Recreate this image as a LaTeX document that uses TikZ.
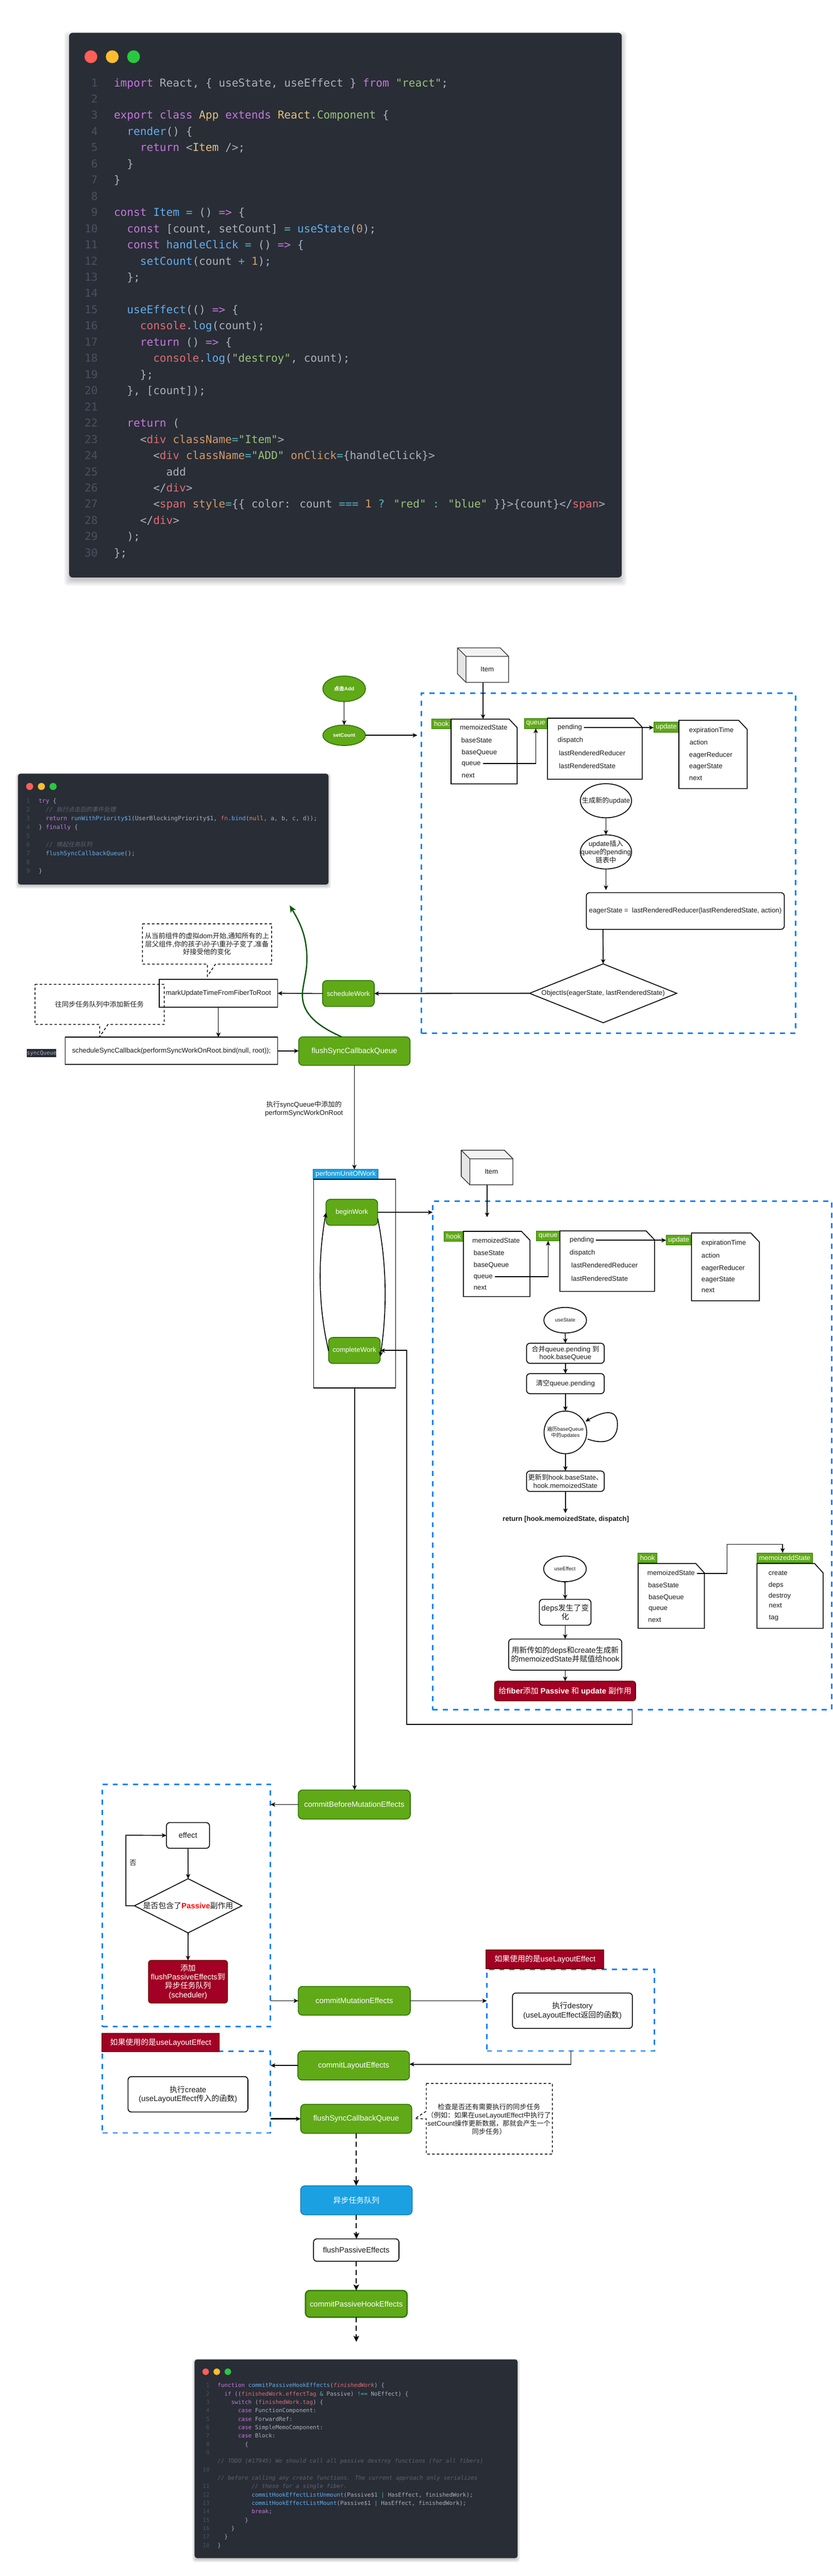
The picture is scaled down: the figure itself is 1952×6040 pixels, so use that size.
\documentclass[tikz,border=0pt]{standalone}
\usepackage{fontspec}
\setmainfont{Liberation Sans}
\newfontfamily\zhfont{Noto Sans CJK SC}
\newfontfamily\zhit[FakeSlant=0.2]{Noto Sans CJK SC}
\newfontfamily\monofam{DejaVu Sans Mono}
\usetikzlibrary{arrows.meta,shapes.geometric}
\definecolor{codebg}{HTML}{292D36}
\definecolor{codefg}{HTML}{ABB2BF}
\definecolor{cK}{HTML}{C678DD}
\definecolor{cB}{HTML}{61AFEF}
\definecolor{cS}{HTML}{98C379}
\definecolor{cN}{HTML}{D19A66}
\definecolor{cY}{HTML}{E5C07B}
\definecolor{cR}{HTML}{E06C75}
\definecolor{cC}{HTML}{56B6C2}
\definecolor{cG}{HTML}{5C6370}
\definecolor{cL}{HTML}{495162}
\definecolor{dotR}{HTML}{FF5F56}
\definecolor{dotY}{HTML}{FFBD2E}
\definecolor{dotG}{HTML}{27C93F}
\definecolor{gfill}{HTML}{60A917}
\definecolor{gline}{HTML}{2D7600}
\definecolor{rfill}{HTML}{A20025}
\definecolor{rline}{HTML}{6F0000}
\definecolor{bfill}{HTML}{1BA1E2}
\definecolor{bline}{HTML}{006EAF}
\definecolor{dashblue}{HTML}{007FFF}
\definecolor{curvegreen}{HTML}{005700}
\definecolor{ink}{HTML}{1C1C1C}
\newcommand\zh[1]{{\zhfont\mdseries #1}}
\newcommand\zhb[1]{{\zhfont\bfseries #1}}
\newcommand\hlK[1]{\textcolor{cK}{#1}}
\newcommand\hlB[1]{\textcolor{cB}{#1}}
\newcommand\hlS[1]{\textcolor{cS}{#1}}
\newcommand\hlN[1]{\textcolor{cN}{#1}}
\newcommand\hlY[1]{\textcolor{cY}{#1}}
\newcommand\hlR[1]{\textcolor{cR}{#1}}
\newcommand\hlC[1]{\textcolor{cC}{#1}}
\newcommand\hlG[1]{{\color{cG}\itshape #1}}
\newcommand\hlI[1]{{\color{cR}\itshape #1}}
\tikzset{
  every node/.style={inner sep=0pt,outer sep=0pt},
  f12/.style={font=\fontsize{6}{7}\selectfont},
  f16/.style={font=\fontsize{8}{9.5}\selectfont},
  f18/.style={font=\fontsize{9}{10.5}\selectfont},
  inkbox/.style={draw=black,line width=1pt,text=ink,align=center},
  plainbox/.style={inkbox,f16},
  rbox/.style={inkbox,rounded corners=4pt,f16},
  rboxl/.style={inkbox,rounded corners=4pt,f18},
  ellbox/.style={ellipse,draw=black,line width=1pt},
  ellgreen/.style={ellipse,draw=gline,fill=gfill,line width=1pt},
  greenbox/.style={draw=gline,fill=gfill,line width=1pt,rounded corners=5pt,text=white,align=center,f18},
  greenboxs/.style={greenbox,f16},
  redbox/.style={draw=rline,fill=rfill,line width=1pt,rounded corners=3pt,text=white,align=center,f18},
  bluebox/.style={draw=bline,fill=bfill,line width=.75pt,rounded corners=5pt,text=white,align=center,f18},
  greenlbl/.style={draw=gline,fill=gfill,line width=.5pt,text=white,f16},
  bluelbl/.style={draw=bline,fill=bfill,line width=.5pt,text=white,f16},
  redlbl/.style={draw=rline,fill=rfill,line width=1pt,text=white,f18},
  invis/.style={},
  doctxt/.style={anchor=west,text=ink,f16,text height=5.8pt,text depth=1.7pt},
  freetxt/.style={text=ink,align=center,f16},
  docline/.style={draw=black,line width=1pt},
  bluedash/.style={draw=dashblue,line width=1.75pt,dash pattern=on 6pt off 6pt},
  calldash/.style={draw=black,line width=.9pt,dash pattern=on 3pt off 2.5pt},
  conn/.style={draw=black,line width=1pt,-{Stealth[length=5.5pt,width=5pt,inset=1.5pt]}},
  connthick/.style={conn,line width=1.5pt},
  conndash/.style={draw=black,line width=1.25pt,dash pattern=on 6pt off 4pt,-{Stealth[length=7pt,width=6.5pt,inset=1.5pt]}},
  connline/.style={draw=black,line width=1pt},
  codetxt/.style={text=codefg,font=\pfont},
}
\newcommand\bx[7][]{%
  \pgfmathsetmacro\bxcx{(#3+#5)/2}\pgfmathsetmacro\bxcy{(#4+#6)/2}%
  \pgfmathsetmacro\bxw{(#5-#3)*0.5}\pgfmathsetmacro\bxh{(#6-#4)*0.5}%
  \node[#1,minimum width=\bxw pt,minimum height=\bxh pt] (#2) at (\bxcx,\bxcy) {#7};}
\newcommand\docbox[7]{%
  \bx[invis]{#1}{#2}{#3}{#4}{#5}{}%
  \draw[docline] (#2,#3) -- (#4-#6,#3) -- (#4,#3+#7) -- (#4,#5) -- (#2,#5) -- cycle;}
\newcommand\dt[4]{\node[doctxt] (#1) at (#2,#3) {#4};}
\newcommand\cube[7]{%
  \bx[invis]{#1}{#2}{#3}{#4}{#5}{}%
  \fill[fill=black!5] (#2,#3) -- (#4-#6,#3) -- (#4,#3+#6) -- (#2+#6,#3+#6) -- cycle;
  \fill[fill=black!10] (#2,#3) -- (#2+#6,#3+#6) -- (#2+#6,#5) -- (#2,#5-#6) -- cycle;
  \draw[docline,line width=.8pt,draw=black!85] (#2,#3) -- (#4-#6,#3) -- (#4,#3+#6) -- (#4,#5) -- (#2+#6,#5) -- (#2,#5-#6) -- cycle;
  \draw[docline,line width=.8pt,draw=black!85] (#2,#3) -- (#2+#6,#3+#6) -- (#4,#3+#6) (#2+#6,#3+#6) -- (#2+#6,#5);
  \node[freetxt] (#1t) at ({(#2+#6+#4)/2},{(#3+#6+#5)/2}) {#7};}
\newcommand\panel[6]{%
  \foreach \shi in {1,...,8}{%
    \pgfmathsetmacro\shE{#6*(9-\shi)/8-#6*0.25}%
    \fill[black,opacity=0.028,rounded corners=#5 pt] (#1-\shE,#2-\shE+#6*0.5) rectangle (#3+\shE,#4+\shE+#6*0.5);
  }%
  \fill[codebg,rounded corners=#5 pt] (#1,#2) rectangle (#3,#4);}
\newcommand\pnum[2]{%
  \pgfmathsetmacro\py{\pyz+(#1-1)*\ppitch+\pbase}%
  \node[codetxt,text=cL,anchor=base east] (\pname n#1) at (\pnx,\py) {#2};}
\newcommand\ptxt[3]{%
  \pgfmathsetmacro\py{\pyz+(#1-1)*\ppitch+\pbase}%
  \pgfmathsetmacro\px{\pxz+#2*\pcw}%
  \node[codetxt,anchor=base west] (\pname t#1) at (\px,\py) {#3};}
\begin{document}
\begin{tikzpicture}[x=0.5pt,y=-0.5pt]
\useasboundingbox (0,0) rectangle (1952,6040);
\fill[white] (0,0) rectangle (1952,6040);

%% ---------- code panel 1
\panel{162}{77}{1457}{1354}{4}{16}
\fill[dotR] (213,133) circle (15);
\fill[dotY] (263,133) circle (15);
\fill[dotG] (313,133) circle (15);
\def\pname{a}\def\pyz{195}\def\ppitch{38}\def\pbase{8}\def\pnx{229}\def\pxz{267}\def\pcw{15.35}
\def\pfont{\monofam\fontsize{12.75}{15}\selectfont}
\pnum{1}{1}\pnum{2}{2}\pnum{3}{3}\pnum{4}{4}\pnum{5}{5}\pnum{6}{6}\pnum{7}{7}\pnum{8}{8}\pnum{9}{9}\pnum{10}{10}
\pnum{11}{11}\pnum{12}{12}\pnum{13}{13}\pnum{14}{14}\pnum{15}{15}\pnum{16}{16}\pnum{17}{17}\pnum{18}{18}\pnum{19}{19}\pnum{20}{20}
\pnum{21}{21}\pnum{22}{22}\pnum{23}{23}\pnum{24}{24}\pnum{25}{25}\pnum{26}{26}\pnum{27}{27}\pnum{28}{28}\pnum{29}{29}\pnum{30}{30}
\ptxt{1}{0}{\hlK{import} React, \{ useState, useEffect \} \hlK{from} \hlS{"react"};}
\ptxt{3}{0}{\hlK{export class} \hlY{App} \hlK{extends} \hlY{React}.\hlS{Component} \{}
\ptxt{4}{2}{\hlB{render}() \{}
\ptxt{5}{4}{\hlK{return} <\hlY{Item} />;}
\ptxt{6}{2}{\}}
\ptxt{7}{0}{\}}
\ptxt{9}{0}{\hlK{const} \hlB{Item} \hlC{=} () \hlK{=>} \{}
\ptxt{10}{2}{\hlK{const} [count, setCount] \hlC{=} \hlB{useState}(\hlN{0});}
\ptxt{11}{2}{\hlK{const} \hlB{handleClick} \hlC{=} () \hlK{=>} \{}
\ptxt{12}{4}{\hlB{setCount}(count \hlC{+} \hlN{1});}
\ptxt{13}{2}{\};}
\ptxt{15}{2}{\hlB{useEffect}(() \hlK{=>} \{}
\ptxt{16}{4}{\hlR{console}.\hlB{log}(count);}
\ptxt{17}{4}{\hlK{return} () \hlK{=>} \{}
\ptxt{18}{6}{\hlR{console}.\hlB{log}(\hlS{"destroy"}, count);}
\ptxt{19}{4}{\};}
\ptxt{20}{2}{\}, [count]);}
\ptxt{22}{2}{\hlK{return} (}
\ptxt{23}{4}{<\hlR{div} \hlN{className}\hlC{=}\hlS{"Item"}>}
\ptxt{24}{6}{<\hlR{div} \hlN{className}\hlC{=}\hlS{"ADD"} \hlN{onClick}\hlC{=}\{handleClick\}>}
\ptxt{25}{8}{add}
\ptxt{26}{6}{</\hlR{div}>}
\ptxt{27}{6}{<\hlR{span} \hlN{style}\hlC{=}\{\{ color: count \hlC{===} \hlN{1} \hlC{?} \hlS{"red"} \hlC{:} \hlS{"blue"} \}\}>\{count\}</\hlR{span}>}
\ptxt{28}{4}{</\hlR{div}>}
\ptxt{29}{2}{);}
\ptxt{30}{0}{\};}

%% ---------- code panel 2
\panel{42}{1814}{770}{2074}{3}{8}
\fill[dotR] (69.5,1844) circle (8.3);
\fill[dotY] (97,1844) circle (8.3);
\fill[dotG] (124.4,1844) circle (8.3);
\def\pname{b}\def\pyz{1878}\def\ppitch{20.6}\def\pbase{4.5}\def\pnx{70}\def\pxz{90.6}\def\pcw{8.36}
\def\pfont{\monofam\fontsize{6.95}{8.5}\selectfont}
\pnum{1}{1}\pnum{2}{2}\pnum{3}{3}\pnum{4}{4}\pnum{5}{5}\pnum{6}{6}\pnum{7}{7}\pnum{8}{8}\pnum{9}{9}
\ptxt{1}{0}{\hlK{try} \{}
\ptxt{2}{2}{\hlG{// {\zhit 执行点击后的事件处理}}}
\ptxt{3}{2}{\hlK{return} \hlB{runWithPriority\$1}(UserBlockingPriority\$1, \hlR{fn}.\hlB{bind}(\hlN{null}, a, b, c, d));}
\ptxt{4}{0}{\} \hlK{finally} \{}
\ptxt{6}{2}{\hlG{// {\zhit 唤起任务队列}}}
\ptxt{7}{2}{\hlB{flushSyncCallbackQueue}();}
\ptxt{9}{0}{\}}

%% ---------- code panel 3
\panel{456}{5532}{1213}{5998}{3}{8}
\fill[dotR] (482,5561) circle (7.6);
\fill[dotY] (508,5561) circle (7.6);
\fill[dotG] (534,5561) circle (7.6);
\def\pname{c}\def\pyz{5593}\def\ppitch{19.74}\def\pbase{4.5}\def\pnx{491}\def\pxz{510}\def\pcw{7.98}
\def\pfont{\monofam\fontsize{6.63}{8}\selectfont}
\pnum{1}{1}\pnum{2}{2}\pnum{3}{3}\pnum{4}{4}\pnum{5}{5}\pnum{6}{6}\pnum{7}{7}\pnum{8}{8}\pnum{9}{9}
\pnum{11}{10}\pnum{13}{11}\pnum{14}{12}\pnum{15}{13}\pnum{16}{14}\pnum{17}{15}\pnum{18}{16}\pnum{19}{17}\pnum{20}{18}
\ptxt{1}{0}{\hlK{function} \hlB{commitPassiveHookEffects}(\hlI{finishedWork}) \{}
\ptxt{2}{2}{\hlK{if} ((\hlR{finishedWork.effectTag} \hlC{\&} Passive) \hlC{!==} NoEffect) \{}
\ptxt{3}{4}{\hlK{switch} (\hlR{finishedWork.tag}) \{}
\ptxt{4}{6}{\hlK{case} FunctionComponent:}
\ptxt{5}{6}{\hlK{case} ForwardRef:}
\ptxt{6}{6}{\hlK{case} SimpleMemoComponent:}
\ptxt{7}{6}{\hlK{case} Block:}
\ptxt{8}{8}{\{}
\ptxt{10}{0}{\hlG{// TODO (\#17945) We should call all passive destroy functions (for all fibers)}}
\ptxt{12}{0}{\hlG{// before calling any create functions. The current approach only serializes}}
\ptxt{13}{10}{\hlG{// these for a single fiber.}}
\ptxt{14}{10}{\hlB{commitHookEffectListUnmount}(Passive\$1 \hlC{|} HasEffect, finishedWork);}
\ptxt{15}{10}{\hlB{commitHookEffectListMount}(Passive\$1 \hlC{|} HasEffect, finishedWork);}
\ptxt{16}{10}{\hlK{break};}
\ptxt{17}{8}{\}}
\ptxt{18}{4}{\}}
\ptxt{19}{2}{\}}
\ptxt{20}{0}{\}}

%% ---------- dashed blue regions
\bx[bluedash]{d1}{988}{1625}{1864}{2423}{}
\bx[bluedash]{d2}{1014}{2816}{1949}{4009}{}
\bx[bluedash]{dA}{240}{4184}{634}{4752}{}
\bx[bluedash]{dB}{240}{4810}{634}{5001}{}
\bx[bluedash]{dC}{1141}{4618}{1534}{4809}{}

%% ---------- upper diagram
\cube{cube1}{1072}{1519}{1192}{1600}{20}{Item}
\bx[ellgreen]{clickadd}{756.5}{1585}{856.5}{1645}{}
\node[text=white,font=\fontsize{6}{7}\selectfont\bfseries] (clickaddt) at (clickadd) {\zhb{点击}Add};
\bx[ellgreen]{setcount}{756.5}{1700}{856.5}{1748}{}
\node[text=white,font=\fontsize{6}{7}\selectfont\bfseries] (setcountt) at (setcount) {setCount};
\draw[conn] (clickadd.south) -- (setcount.north);
\coordinate (setcountend) at (978,1724);
\draw[conn] (setcount.east) -- (setcountend);

\bx[greenlbl]{h1l}{1012}{1686}{1057}{1709}{hook}
\docbox{h1}{1057}{1686}{1212}{1838}{19}{20}
\dt{h1m}{1078}{1707.5}{memoizedState}
\dt{h1b}{1081}{1737}{baseState}
\dt{h1bq}{1082}{1765.5}{baseQueue}
\dt{h1q}{1082}{1790}{queue}
\dt{h1n}{1082}{1819}{next}
\bx[greenlbl]{q1l}{1229}{1685}{1282}{1708}{queue}
\docbox{q1}{1283}{1684}{1505}{1827}{20}{21}
\dt{q1p}{1307}{1706}{pending}
\dt{q1d}{1307}{1736}{dispatch}
\dt{q1r}{1310}{1767}{lastRenderedReducer}
\dt{q1s}{1310}{1798}{lastRenderedState}
\bx[greenlbl]{u1l}{1532}{1693}{1591}{1717}{update}
\docbox{u1}{1591}{1689}{1751}{1849}{20}{21}
\dt{u1e}{1615}{1713}{expirationTime}
\dt{u1a}{1616}{1742.5}{action}
\dt{u1r}{1615}{1771}{eagerReducer}
\dt{u1s}{1615}{1798}{eagerState}
\dt{u1n}{1615}{1825}{next}
\draw[conn] (cube1.south) -- (cube1.south |- h1.north);
\draw[conn] ([xshift=2.5pt]h1q.east) -| (q1l.south);
\draw[conn] ([xshift=2.5pt]q1p.east) -- (u1l.west |- q1p.east);

\bx[ellbox]{gen}{1360}{1837.5}{1480}{1917.5}{}
\node[freetxt] (gent) at (gen) {\zh{生成新的}update};
\bx[ellbox]{ins}{1360}{1957.5}{1480}{2037.5}{}
\node[freetxt] (inst) at (ins) {update\zh{插入}\\queue\zh{的}pending\\\zh{链表中}};
\bx[rbox]{eager}{1374}{2093}{1838}{2179}{eagerState =\ \ lastRenderedReducer(lastRenderedState, action)}
\bx[invis]{objis}{1241}{2260}{1586}{2398}{}
\draw[docline] (objis.north) -- (objis.east) -- (objis.south) -- (objis.west) -- cycle;
\node[freetxt] (objist) at (objis) {ObjectIs(eagerState, lastRenderedState)};
\coordinate (eagerin) at (1420,2087);
\coordinate (eagerout) at (1413,2179);
\draw[conn] (gen.south) -- (ins.north);
\draw[conn] (ins.south) -- (eagerin);
\draw[conn] (eagerout) -- (objis.north);

\bx[greenboxs]{schedwork}{756}{2299}{877}{2360}{scheduleWork}
\bx[plainbox]{mark}{373}{2296}{650.5}{2362}{markUpdateTimeFromFiberToRoot}
\bx[plainbox]{schedsync}{153}{2432}{650.5}{2496}{scheduleSyncCallback(performSyncWorkOnRoot.bind(null, root));}
\bx[greenbox]{flush1}{700}{2431}{961}{2498}{flushSyncCallbackQueue}
\bx[invis]{syncq}{63}{2460}{132}{2479}{}
\fill[codebg] (63,2460) rectangle (132,2479);
\node[text=codefg,font=\monofam\fontsize{6.4}{8}\selectfont] (syncqt) at (syncq) {syncQueue};
\draw[conn,line width=1.25pt] (objis.west) -- (schedwork.east);
\draw[conn] (schedwork.west) -- (mark.east);
\draw[conn] (mark.south) -- (mark.south |- schedsync.north);
\draw[conn] (schedsync.east) -- (flush1.west |- schedsync.east);

% callouts
\draw[calldash] (334,2166) -- (636.5,2166) -- (636.5,2260.5) -- (505,2260.5) -- (486,2289) -- (486,2260.5) -- (334,2260.5) -- cycle;
\node[freetxt] (call1) at (485,2213) {\zh{从当前组件的虚拟}dom\zh{开始},\zh{通知所有的上}\\\zh{层父组件},\zh{你的孩子}\textbackslash\zh{孙子}\textbackslash\zh{重孙子变了},\zh{准备}\\\zh{好接受他的变化}};
\draw[calldash] (82,2308) -- (385,2308) -- (385,2402) -- (253,2402) -- (233.5,2431) -- (233.5,2402) -- (82,2402) -- cycle;
\node[freetxt] (call2) at (233,2355) {\zh{往同步任务队列中添加新任务}};

% green curve
\coordinate (curvetip) at (679,2123);
\draw[draw=curvegreen,line width=1.5pt,-{Stealth[length=8pt,width=7pt,inset=2pt]}] ([xshift=-15pt]flush1.north) .. controls (735,2402) and (705,2370) .. (709,2325) .. controls (713,2290) and (725,2265) .. (716,2210) .. controls (710,2175) and (695,2150) .. (curvetip);

\node[freetxt] (execnote) at (712.4,2600) {\zh{执行}syncQueue\zh{中添加的}\\performSyncWorkOnRoot};

%% ---------- perform unit of work
\bx[bluelbl]{workl}{734}{2742}{886}{2765}{perfonmUnitOfWork}
\bx[plainbox]{workb}{735}{2765}{927}{3254}{}
\bx[greenboxs]{begin}{764}{2812}{885}{2873}{beginWork}
\bx[greenboxs]{complete}{770}{3136}{891}{3197}{completeWork}
\draw[conn] (flush1.south) -- (flush1.south |- workl.north);
\draw[conn] ([yshift=-7pt]begin.east) .. controls (906,2960) and (908,3070) .. ([yshift=-7pt]complete.east);
\draw[conn] ([yshift=-0.5pt]complete.west) .. controls (745,3060) and (745,2950) .. ([yshift=-0.5pt]begin.west);
\draw[conn] (begin.east) -- (d2.west |- begin.east);
\coordinate (d2out) at (1481.6,4009);
\coordinate (d2bend) at (953,4043);
\draw[conn] (d2out) |- (d2bend) |- (complete.east);

%% ---------- second hook area
\cube{cube2}{1081}{2697}{1202}{2778}{20}{Item}
\coordinate (cube2end) at (1141.5,2854);
\draw[conn] (cube2.south) -- (cube2end);
\bx[greenlbl]{h2l}{1041}{2887}{1085}{2911}{hook}
\docbox{h2}{1086}{2887}{1242}{3040}{20}{21}
\dt{h2m}{1107}{2910}{memoizedState}
\dt{h2b}{1110}{2939}{baseState}
\dt{h2bq}{1110}{2967.5}{baseQueue}
\dt{h2q}{1110}{2993}{queue}
\dt{h2n}{1110}{3020}{next}
\bx[greenlbl]{q2l}{1257}{2886}{1312}{2909.5}{queue}
\docbox{q2}{1312}{2886}{1534}{3028}{20}{21}
\dt{q2p}{1335}{2908}{pending}
\dt{q2d}{1335}{2937.7}{dispatch}
\dt{q2r}{1339}{2968.7}{lastRenderedReducer}
\dt{q2s}{1339}{2999}{lastRenderedState}
\bx[greenlbl]{u2l}{1561}{2896}{1620}{2919}{update}
\docbox{u2}{1620.5}{2891}{1779.5}{3050}{20}{21}
\dt{u2e}{1644}{2914.7}{expirationTime}
\dt{u2a}{1644}{2945}{action}
\dt{u2r}{1644}{2974}{eagerReducer}
\dt{u2s}{1644}{3001}{eagerState}
\dt{u2n}{1644}{3026.6}{next}
\draw[conn] ([xshift=2.5pt]h2q.east) -| (q2l.south);
\draw[conn] ([xshift=2.5pt]q2p.east) -- (u2l.west |- q2p.east);

\bx[ellbox]{ustate}{1274.5}{3065.5}{1374.5}{3125.5}{}
\node[freetxt,f12] (ustatet) at (ustate) {useState};
\bx[rbox]{mergeq}{1234}{3149.5}{1416}{3196.6}{\zh{合并}queue.pending \zh{到}\\hook.baseQueue}
\bx[rbox]{clearq}{1234}{3220.7}{1416}{3267.7}{\zh{清空}queue.pending}
\bx[ellbox]{walk}{1275}{3308.5}{1375}{3408.5}{}
\node[freetxt,f12] (walkt) at (walk) {\zh{遍历}baseQueue\\\zh{中的}updates};
\bx[rbox]{updh}{1234}{3449}{1416}{3497}{\zh{更新到}hook.baseState\zh{、}\\hook.memoizedState}
\node[text=ink,font=\fontsize{8}{9.5}\selectfont\bfseries] (ret) at (1326,3562) {return [hook.memoizedState, dispatch]};
\coordinate (retin) at (1325,3548);
\draw[conn] (ustate.south) -- (mergeq.north);
\draw[conn] (mergeq.south) -- (clearq.north);
\draw[conn] (clearq.south) -- (walk.north);
\draw[conn] (walk.south) -- (updh.north);
\draw[conn] (updh.south) -- (retin);
\draw[conn] (1377,3374) .. controls (1420,3390) and (1447,3375) .. (1447,3340) .. controls (1447,3305) and (1420,3305) .. (1372,3333);

\bx[ellbox]{ueff}{1274}{3648.6}{1374}{3708.6}{}
\node[freetxt,f12] (uefft) at (ueff) {useEffect};
\bx[rboxl]{deps}{1264}{3750}{1385}{3810.7}{deps\zh{发生了变}\\\zh{化}}
\bx[rboxl]{newms}{1192}{3843}{1457}{3916}{\zh{用新传如的}deps\zh{和}create\zh{生成新}\\\zh{的}memoizedState\zh{并赋值给}hook}
\bx[redbox,font=\fontsize{9}{10.5}\selectfont\bfseries]{addfib}{1159}{3942}{1489.5}{3988}{\zh{给}fiber\zh{添加} Passive \zh{和} update \zh{副作用}}
\draw[conn] (ueff.south) -- (deps.north);
\draw[conn] (deps.south) -- (deps.south |- newms.north);
\draw[conn] (newms.south) -- (newms.south |- addfib.north);

\bx[greenlbl]{h3l}{1495}{3641}{1540}{3664}{hook}
\docbox{h3}{1495.5}{3666}{1650.7}{3818}{20}{22}
\dt{h3m}{1517}{3689}{memoizedState}
\dt{h3b}{1519}{3718}{baseState}
\dt{h3bq}{1520}{3746}{baseQueue}
\dt{h3q}{1520}{3772}{queue}
\dt{h3n}{1519}{3799.5}{next}
\bx[greenlbl]{ml}{1774}{3641}{1904}{3664}{memoizeddState}
\docbox{md}{1774}{3666}{1929}{3818}{20}{22}
\dt{mdc}{1801}{3689}{create}
\dt{mdd}{1801}{3717}{deps}
\dt{mde}{1801}{3742}{destroy}
\dt{mdn}{1802}{3765}{next}
\dt{mdt}{1802}{3793}{tag}
\coordinate (h3bend) at (1704,3621);
\draw[conn] ([xshift=2.5pt]h3m.east) -| (h3bend) -| ([xshift=-2.5pt]ml.north);

%% ---------- commit phase
\bx[greenbox]{cbm}{699}{4197}{961.5}{4265}{commitBeforeMutationEffects}
\bx[greenbox]{cmu}{699}{4657.5}{961.5}{4725}{commitMutationEffects}
\bx[greenbox]{cla}{698}{4809}{959.6}{4877}{commitLayoutEffects}
\bx[greenbox]{fs2}{704.5}{4934}{965}{5002}{flushSyncCallbackQueue}
\bx[bluebox]{async}{704.5}{5125}{966}{5193}{\zh{异步任务队列}}
\draw[conn] (workb.south) -- (workb.south |- cbm.north);
\draw[conn] (cbm.west) -- (dA.east |- cbm.west);
\draw[conn] (dA.east |- cmu.west) -- (cmu.west);
\draw[conn] (cmu.east) -- (dC.west |- cmu.east);
\draw[conn] (cla.west) -- (dB.east |- cla.west);
\draw[connthick] (dB.east |- fs2.west) -- (fs2.west);

\bx[rboxl]{effect}{390}{4273.4}{491}{4333.7}{effect}
\bx[invis]{passd}{315}{4405}{566.7}{4532}{}
\draw[docline] (passd.north) -- (passd.east) -- (passd.south) -- (passd.west) -- cycle;
\node[freetxt,f18] (passdt) at (passd) {\zh{是否包含了}\textcolor{red}{\bfseries Passive}\zh{副作用}};
\bx[redbox]{addflush}{348}{4596.6}{533}{4696.5}{\zh{添加}\\flushPassiveEffects\zh{到}\\\zh{异步任务队列}\\(scheduler)}
\draw[conn] (effect.south) -- (passd.north);
\draw[conn] (passd.south) -- (addflush.north);
\coordinate (nobend) at (295,4303);
\draw[conn] (passd.west) -| (nobend) -- (effect.west);
\node[freetxt] (nolbl) at (311.6,4367.6) {\zh{否}};

\bx[redlbl]{rl1}{239}{4767.7}{514}{4811}{\zh{如果使用的是}useLayoutEffect}
\bx[rboxl]{execc}{300}{4869}{581}{4952}{\zh{执行}create\\(useLayoutEffect\zh{传入的函数})}
\bx[redlbl]{rl2}{1139.5}{4572}{1415}{4615.5}{\zh{如果使用的是}useLayoutEffect}
\bx[rboxl]{execd}{1201}{4673}{1482}{4756}{\zh{执行}destory\\(useLayoutEffect\zh{返回的函数})}
\coordinate (dCout) at (1338,4809);
\draw[conn] (dCout) |- ([yshift=1.5pt]cla.east);

\draw[calldash] (999,4885) -- (1294.5,4885) -- (1294.5,5050.6) -- (999,5050.6) -- (999,4968) -- (972.5,4967.6) -- (999,4950) -- cycle;
\node[freetxt] (call3) at (1146,4969) {\zh{检查是否还有需要执行的同步任务}\\\zh{（例如：如果在}useLayoutEffect\zh{中执行了}\\setCount\zh{操作更新数据，那就会产生一个}\\\zh{同步任务）}};

\bx[rboxl]{fpe}{734.7}{5249.4}{935}{5302}{flushPassiveEffects}
\bx[greenbox,line width=1.5pt]{cph}{715.8}{5370.6}{954}{5433}{commitPassiveHookEffects}
\coordinate (cphend) at (835,5491);
\draw[conndash] (fs2.south) -- (fs2.south |- async.north);
\draw[conndash] (async.south) -- (async.south |- fpe.north);
\draw[conndash] (fpe.south) -- (fpe.south |- cph.north);
\draw[conndash] (cph.south) -- (cphend);
\end{tikzpicture}
\end{document}
